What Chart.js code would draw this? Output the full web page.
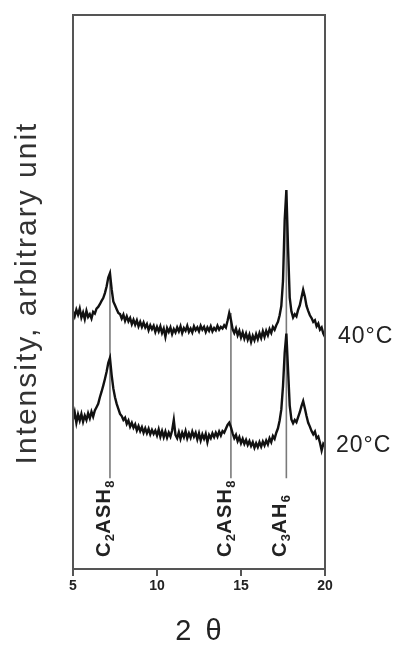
<!DOCTYPE html>
<html>
<head>
<meta charset="utf-8">
<script src="https://cdn.jsdelivr.net/npm/chart.js@4.4.1/dist/chart.umd.min.js"></script>
<style>
  html, body { margin: 0; padding: 0; background: #fff; }
  #chart { display: block; }
</style>
</head>
<body>
<canvas id="chart" width="400" height="652"></canvas>
<script>
// 2-theta sampling (degrees)
const twoTheta = [
  5.0, 5.1, 5.2, 5.3, 5.4, 5.5, 5.6, 5.7, 5.8, 5.9,
  6.0, 6.1, 6.2, 6.3, 6.4, 6.5, 6.6, 6.7, 6.8, 6.9,
  7.0, 7.1, 7.2, 7.3, 7.4, 7.5, 7.6, 7.7, 7.8, 7.9,
  8.0, 8.1, 8.2, 8.3, 8.4, 8.5, 8.6, 8.7, 8.8, 8.9,
  9.0, 9.1, 9.2, 9.3, 9.4, 9.5, 9.6, 9.7, 9.8, 9.9,
  10.0, 10.1, 10.2, 10.3, 10.4, 10.5, 10.6, 10.7, 10.8, 10.9,
  11.0, 11.1, 11.2, 11.3, 11.4, 11.5, 11.6, 11.7, 11.8, 11.9,
  12.0, 12.1, 12.2, 12.3, 12.4, 12.5, 12.6, 12.7, 12.8, 12.9,
  13.0, 13.1, 13.2, 13.3, 13.4, 13.5, 13.6, 13.7, 13.8, 13.9,
  14.0, 14.1, 14.2, 14.3, 14.4, 14.5, 14.6, 14.7, 14.8, 14.9,
  15.0, 15.1, 15.2, 15.3, 15.4, 15.5, 15.6, 15.7, 15.8, 15.9,
  16.0, 16.1, 16.2, 16.3, 16.4, 16.5, 16.6, 16.7, 16.8, 16.9,
  17.0, 17.1, 17.2, 17.3, 17.4, 17.5, 17.6, 17.7, 17.8, 17.9,
  18.0, 18.1, 18.2, 18.3, 18.4, 18.5, 18.6, 18.7, 18.8, 18.9,
  19.0, 19.1, 19.2, 19.3, 19.4, 19.5, 19.6, 19.7, 19.8, 19.9,
  20.0
];

// Intensity (arbitrary unit)
const intensity40 = [
  46.5, 45.6, 46.8, 45.9, 47.0, 45.4, 46.3, 45.1, 46.6, 45.5,
  46.0, 45.2, 46.4, 46.1, 47.0, 47.3, 47.8, 48.4, 48.9, 49.8,
  51.0, 52.6, 53.4, 50.5, 48.3, 47.6, 46.9, 46.2, 46.0, 45.2,
  45.9, 44.8, 45.6, 44.7, 45.3, 44.2, 45.0, 44.1, 44.9, 43.8,
  44.6, 43.7, 44.5, 43.6, 44.2, 43.1, 44.0, 43.3, 43.9, 42.8,
  43.7, 42.9, 43.8, 42.6, 43.4, 41.9, 43.5, 42.8, 43.6, 42.4,
  43.3, 42.7, 43.6, 42.9, 43.8, 42.6, 43.5, 43.0, 43.9, 42.8,
  43.4, 42.7, 43.8, 43.1, 43.6, 42.9, 43.9, 43.2, 43.7, 42.8,
  43.6, 43.0, 43.8, 42.9, 43.5, 43.1, 43.9, 43.2, 43.7, 43.4,
  44.0, 43.6, 44.8, 46.2, 45.0, 43.3, 42.6, 43.4, 42.2, 43.0,
  41.8, 42.7, 41.6, 42.5, 41.4, 42.3, 41.0, 42.1, 41.3, 42.4,
  41.5, 42.6, 41.7, 42.9, 41.9, 43.0, 42.2, 43.3, 42.6, 43.7,
  43.2, 44.0, 44.6, 45.8, 47.5, 52.0, 63.0, 68.4, 58.0, 49.0,
  46.5, 45.4, 46.0, 45.6, 46.8, 47.6, 49.0, 50.4, 49.2, 47.5,
  46.6, 45.8, 45.3, 44.6, 44.9, 43.8, 44.3, 43.2, 43.6, 42.5,
  41.9
];

const intensity20 = [
  27.0, 28.3, 26.4, 27.9, 26.8, 28.0, 26.6, 27.7, 26.9, 28.1,
  27.2, 28.4, 27.5, 28.6, 29.2, 29.8, 31.0, 32.0, 33.1, 34.3,
  35.6, 37.2, 38.1, 35.0, 32.6, 31.0, 29.8, 28.9, 28.0, 27.6,
  26.9, 27.3, 26.2, 26.8, 25.7, 26.4, 25.5, 26.1, 25.0, 25.8,
  24.9, 25.6, 24.6, 25.4, 24.5, 25.3, 24.3, 25.1, 24.4, 25.0,
  24.1, 25.2, 23.9, 24.9, 23.8, 24.8, 23.7, 24.6, 23.9, 25.0,
  26.9, 24.2, 23.6, 24.7, 23.5, 24.6, 23.8, 24.9, 23.6, 24.5,
  23.7, 24.8, 23.9, 24.6, 23.4, 24.5, 23.2, 24.3, 23.5, 24.4,
  22.9, 24.2, 23.6, 24.5, 23.8, 24.6, 23.9, 24.8, 24.1, 24.9,
  24.6, 25.3, 26.0, 26.4, 25.6, 24.5, 23.6, 24.2, 23.1, 23.8,
  22.7, 23.5, 22.6, 23.3, 22.4, 23.1, 22.2, 22.9, 21.9, 22.7,
  22.0, 22.9, 22.1, 23.0, 22.3, 23.2, 22.5, 23.6, 22.9, 24.0,
  23.5, 24.6, 25.4, 26.8, 28.8, 33.0, 39.0, 42.5, 36.0, 29.5,
  27.0, 26.3, 26.9, 26.5, 27.4, 28.3, 29.4, 30.3, 29.0, 27.6,
  26.4, 25.7, 24.9, 24.3, 24.8, 23.6, 23.9, 22.8, 21.4, 22.6,
  22.2
];

const seriesLabels = ["40°C", "20°C"];

// Phase marker lines
const peakPositions = [7.2, 14.4, 17.7];
const peakLineTops = [53.4, 46.2, 68.4];
const peakLineBottom = 16.4;
const peakLabels = ["C2ASH8", "C2ASH8", "C3AH6"];

const xTicks = [5, 10, 15, 20];

function toPoints(xs, ys) {
  return xs.map((x, i) => ({ x: x, y: ys[i] }));
}

const datasets = [
  { data: toPoints(twoTheta, intensity40), borderColor: "#111", borderWidth: 2.4 },
  { data: toPoints(twoTheta, intensity20), borderColor: "#111", borderWidth: 2.4 }
];
peakPositions.forEach((p, i) => {
  datasets.push({
    data: [{ x: p, y: peakLineTops[i] }, { x: p, y: peakLineBottom }],
    borderColor: "#7a7a7a",
    borderWidth: 1.6
  });
});

// Draw a phase label, digits as subscripts, reading bottom-to-top
function drawPhaseLabel(ctx, text, x, yBottom) {
  ctx.save();
  ctx.translate(x, yBottom);
  ctx.rotate(-Math.PI / 2);
  ctx.fillStyle = "#222";
  ctx.textBaseline = "alphabetic";
  ctx.textAlign = "left";
  let pos = 0;
  for (const ch of text) {
    const sub = /[0-9]/.test(ch);
    ctx.font = sub ? "bold 13px 'Liberation Sans', Arial, sans-serif" : "bold 20px 'Liberation Sans', Arial, sans-serif";
    ctx.fillText(ch, pos, sub ? 10 : 6);
    pos += ctx.measureText(ch).width + (sub ? 0.5 : 1.2);
  }
  ctx.restore();
}

const decorPlugin = {
  id: "decor",
  afterDatasetsDraw(chart) {
    const { ctx, chartArea: a, scales } = chart;
    const xs = scales.x, ys = scales.y;

    // frame
    ctx.save();
    ctx.strokeStyle = "#555";
    ctx.lineWidth = 2;
    ctx.beginPath();
    ctx.moveTo(a.left, a.bottom + 7);
    ctx.lineTo(a.left, a.top);
    ctx.lineTo(a.right, a.top);
    ctx.lineTo(a.right, a.bottom + 7);
    ctx.moveTo(a.left, a.bottom);
    ctx.lineTo(a.right, a.bottom);
    ctx.stroke();

    // ticks and tick labels
    ctx.fillStyle = "#222";
    ctx.font = "bold 14px 'Liberation Sans', Arial, sans-serif";
    ctx.textAlign = "center";
    ctx.textBaseline = "middle";
    xTicks.forEach(t => {
      const px = xs.getPixelForValue(t);
      ctx.beginPath();
      ctx.moveTo(px, a.bottom);
      ctx.lineTo(px, a.bottom + 7);
      ctx.stroke();
      ctx.fillText(String(t), px, a.bottom + 17);
    });

    // phase labels
    peakPositions.forEach((p, i) => {
      drawPhaseLabel(ctx, peakLabels[i], xs.getPixelForValue(p) - 6, a.bottom - 12);
    });

    // series labels at right end
    ctx.font = "23px 'Liberation Sans', Arial, sans-serif";
    ctx.letterSpacing = "1px";
    ctx.textAlign = "left";
    ctx.textBaseline = "middle";
    ctx.fillText(seriesLabels[0], a.right + 13, ys.getPixelForValue(intensity40[intensity40.length - 1]));
    ctx.fillText(seriesLabels[1], a.right + 11, ys.getPixelForValue(intensity20[intensity20.length - 1]));

    // axis titles
    ctx.font = "29px 'Liberation Sans', Arial, sans-serif";
    ctx.letterSpacing = "3px";
    ctx.textAlign = "center";
    ctx.fillText("2 θ", (a.left + a.right) / 2 + 1, 632);
    ctx.letterSpacing = "2px";
    ctx.font = "30px 'Liberation Sans', Arial, sans-serif";
    ctx.translate(28, 293);
    ctx.rotate(-Math.PI / 2);
    ctx.fillStyle = "#333";
    ctx.fillText("Intensity, arbitrary unit", 0, 0);
    ctx.restore();
  }
};

new Chart(document.getElementById("chart"), {
  type: "line",
  data: { datasets: datasets },
  options: {
    responsive: false,
    animation: false,
    layout: { padding: { left: 73, top: 15, right: 75, bottom: 83 } },
    elements: { point: { radius: 0 }, line: { tension: 0 } },
    plugins: { legend: { display: false }, tooltip: { enabled: false } },
    scales: {
      x: { type: "linear", min: 5, max: 20, display: false },
      y: { min: 0, max: 100, display: false }
    }
  },
  plugins: [decorPlugin]
});
</script>
</body>
</html>
